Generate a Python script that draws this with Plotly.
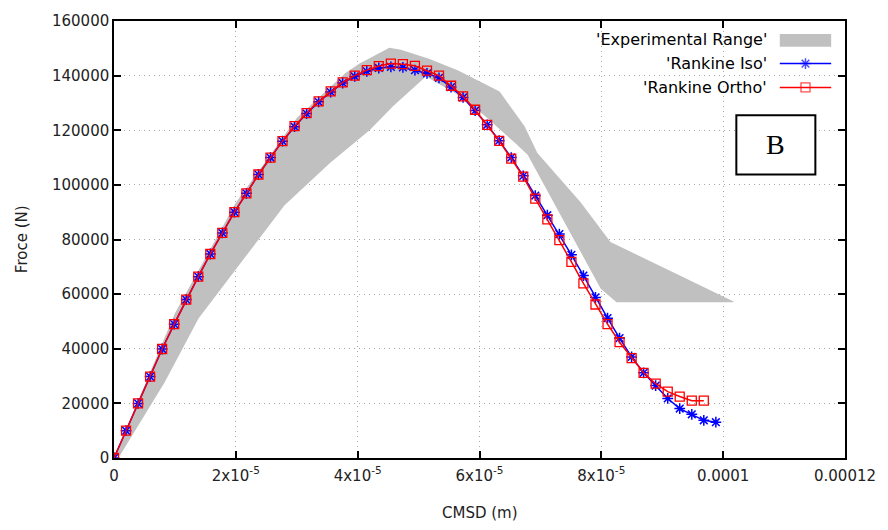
import plotly.graph_objects as go

# ---------------- data ----------------
# CMSD in micrometres (converted to metres below)
cmsd_iso_um = [0, 1.98, 3.95, 5.93, 7.90, 9.88, 11.86, 13.83, 15.81, 17.78,
               19.76, 21.74, 23.71, 25.69, 27.66, 29.64, 31.62, 33.59, 35.57, 37.54,
               39.52, 41.50, 43.47, 45.45, 47.42, 49.40, 51.38, 53.35, 55.33, 57.30,
               59.28, 61.26, 63.23, 65.21, 67.18, 69.16, 71.14, 73.11, 75.09, 77.06,
               79.04, 81.02, 82.99, 84.97, 86.94, 88.92, 90.90, 92.87, 94.85, 96.82,
               98.80]
force_iso = [0, 10000, 20000, 29800, 39900, 49000, 58000, 66400, 74700, 82400,
             90000, 96900, 103800, 110000, 116000, 121300, 126100, 130400, 134000, 137300,
             139700, 141600, 142800, 143200, 143000, 142000, 140800, 139200, 135800, 132000,
             127200, 122000, 116200, 110000, 103300, 96100, 88900, 82000, 74400, 66800,
             58800, 51200, 43900, 37000, 31200, 26500, 21800, 18100, 16000, 13800,
             13100]

cmsd_ortho_um = cmsd_iso_um[:50]
force_ortho = [0, 10000, 20000, 29800, 39900, 49000, 58000, 66400, 74700, 82400,
               90000, 96900, 103800, 110000, 116000, 121500, 126300, 130600, 134200, 137500,
               140000, 142000, 143500, 144400, 144200, 143600, 141800, 140000, 136300, 132400,
               127500, 122000, 116100, 109600, 103000, 95000, 87400, 79800, 71800, 63900,
               56200, 49000, 42400, 36600, 31200, 27200, 24300, 22500, 21000, 21000]

# experimental range envelope (upper edge left->right, then lower edge right->left)
exp_upper_um = [0, 10.0, 20.0, 30.0, 38.0, 40.3, 41.5, 45.2, 47.1, 51.7, 56.5, 63.3,
                67.4, 69.5, 76.6, 81.5, 101.7]
exp_upper_f = [0, 53000, 93500, 124500, 141000, 144400, 145800, 150200, 149500, 146200,
               141900, 134200, 121500, 111700, 93600, 79100, 57300]
exp_lower_um = [101.7, 82.5, 79.9, 67.9, 65.8, 60.9, 56.1, 51.2, 45.8, 42.0, 35.5,
                28.0, 20.9, 13.9, 8.3, 1.0, 0]
exp_lower_f = [57000, 57000, 62000, 111000, 115400, 125200, 133500, 139700, 128800,
               120100, 108100, 92500, 71800, 51200, 27600, 1000, 0]

x_tickvals = [0, 2e-5, 4e-5, 6e-5, 8e-5, 1e-4, 1.2e-4]
x_ticktext = ["0", "2x10<sup>-5</sup>", "4x10<sup>-5</sup>", "6x10<sup>-5</sup>",
              "8x10<sup>-5</sup>", "0.0001", "0.00012"]
y_tickvals = [0, 20000, 40000, 60000, 80000, 100000, 120000, 140000, 160000]
y_ticktext = [str(v) for v in y_tickvals]

legend_labels = ["'Experimental Range'", "'Rankine Iso'", "'Rankine Ortho'"]
x_title = "CMSD (m)"
y_title = "Froce (N)"

# ---------------- figure ----------------
um = 1e-6
FONT = "DejaVu Sans"
W, H = 888, 530
PX_L, PX_R, PX_T, PX_B = 114, 854, 17, 458


def px_x(px):
    return (px - PX_L) / (PX_R - PX_L)


def px_y(py):
    return (PX_B - py) / (PX_B - PX_T)


fig = go.Figure()

fig.add_trace(go.Scatter(
    x=[v * um for v in exp_upper_um + exp_lower_um],
    y=exp_upper_f + exp_lower_f,
    mode="lines", fill="toself", fillcolor="#c0c0c0",
    line=dict(width=0, color="#c0c0c0"), hoverinfo="skip", showlegend=False))

fig.add_trace(go.Scatter(
    x=[v * um for v in cmsd_iso_um], y=force_iso, mode="lines+markers",
    line=dict(color="#0000ff", width=1.5),
    marker=dict(symbol="asterisk-open", size=9, color="#0000ff",
                line=dict(color="#0000ff", width=1.5)),
    showlegend=False))

fig.add_trace(go.Scatter(
    x=[v * um for v in cmsd_ortho_um], y=force_ortho, mode="lines+markers",
    line=dict(color="#ff0000", width=1.5),
    marker=dict(symbol="square-open", size=9, color="#ff0000",
                line=dict(color="#ff0000", width=1.3)),
    showlegend=False))

# ---- manual legend (samples to the right of the text), pixel overlay axes ----
legend_rows = [36, 60, 84]
fig.add_trace(go.Scatter(x=[788, 814, 840], y=[60, 60, 60], xaxis="x2", yaxis="y2",
                         mode="lines+markers", line=dict(color="#0000ff", width=1.5),
                         marker=dict(symbol="asterisk-open", size=[0, 9, 0], color="#0000ff",
                                     line=dict(color="#0000ff", width=1.5)),
                         showlegend=False, hoverinfo="skip"))
fig.add_trace(go.Scatter(x=[788, 814, 840], y=[84, 84, 84], xaxis="x2", yaxis="y2",
                         mode="lines+markers", line=dict(color="#ff0000", width=1.5),
                         marker=dict(symbol="square-open", size=[0, 9, 0], color="#ff0000",
                                     line=dict(color="#ff0000", width=1.3)),
                         showlegend=False, hoverinfo="skip"))

shapes = [
    dict(type="rect", xref="x2", yref="y2", x0=788, x1=840, y0=30, y1=43,
         fillcolor="#c0c0c0", line=dict(width=0)),
    dict(type="rect", xref="x2", yref="y2", x0=744, x1=824, y0=112, y1=172,
         fillcolor="white", line=dict(color="black", width=2)),
]

annotations = []
for lab, yy in zip(legend_labels, legend_rows):
    annotations.append(dict(x=px_x(777), y=px_y(yy), xref="paper", yref="paper", text=lab,
                            showarrow=False, xanchor="right", yanchor="middle",
                            font=dict(family=FONT, size=16, color="black")))
annotations.append(dict(x=px_x(784), y=px_y(142), xref="paper", yref="paper", text="B",
                        showarrow=False, xanchor="center", yanchor="middle",
                        font=dict(family="Liberation Serif", size=28, color="black")))
annotations.append(dict(x=px_x(21), y=px_y(237), xref="paper", yref="paper", text=y_title,
                        showarrow=False, textangle=-90, xanchor="center",
                        yanchor="middle", font=dict(family=FONT, size=15, color="#222")))
annotations.append(dict(x=px_x(484), y=px_y(514), xref="paper", yref="paper", text=x_title,
                        showarrow=False, xanchor="center", yanchor="middle",
                        font=dict(family=FONT, size=15, color="#222")))

axis_common = dict(showline=True, linecolor="black", linewidth=1.5, mirror="ticks",
                   ticks="inside", ticklen=7, tickwidth=1.5, tickcolor="black",
                   showgrid=True, gridcolor="#a8a8a8", gridwidth=1, griddash="1px,4px",
                   zeroline=False, tickfont=dict(family=FONT, size=15, color="#222"))

fig.update_layout(
    width=W, height=H,
    margin=dict(l=PX_L, r=W - PX_R, t=PX_T, b=H - PX_B),
    paper_bgcolor="white", plot_bgcolor="white",
    showlegend=False,
    xaxis=dict(range=[0, 1.2e-4], tickvals=x_tickvals, ticktext=x_ticktext,
               ticklabelstandoff=3, **axis_common),
    yaxis=dict(range=[0, 160000], tickvals=y_tickvals, ticktext=y_ticktext, **axis_common),
    xaxis2=dict(range=[PX_L, PX_R], overlaying="x", visible=False, fixedrange=True),
    yaxis2=dict(range=[PX_B, PX_T], overlaying="y", visible=False, fixedrange=True),
    shapes=shapes, annotations=annotations,
)

fig.write_html("out.html")
